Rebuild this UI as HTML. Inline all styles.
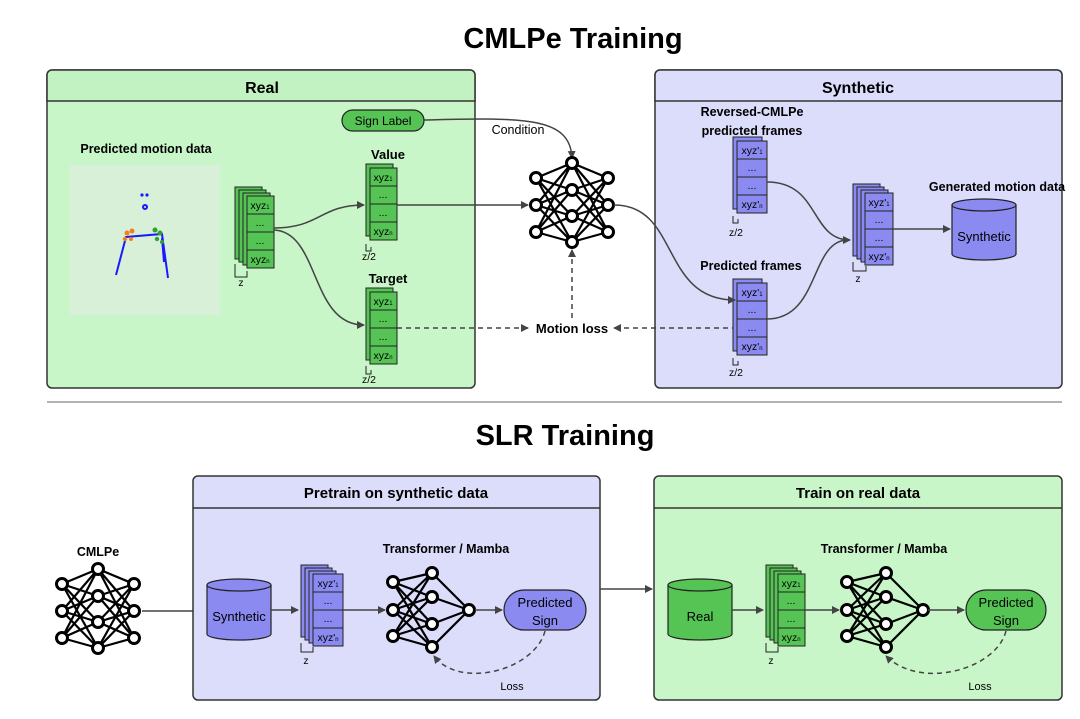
<!DOCTYPE html>
<html><head><meta charset="utf-8"><style>
body{margin:0;background:#fff}
svg{display:block;font-family:"Liberation Sans",sans-serif}
</style></head><body>
<svg width="1080" height="719" viewBox="0 0 1080 719" xmlns="http://www.w3.org/2000/svg">
<defs>
<marker id="a" markerWidth="8" markerHeight="8" refX="7" refY="4" orient="auto" markerUnits="userSpaceOnUse"><path d="M0,0 L8,4 L0,8 z" fill="#444"/></marker>
<g id="net3">
<g stroke="#000" stroke-width="2.2">
<path d="M0,0 L36,-15 M0,0 L36,12 M0,0 L36,38 M0,0 L36,64 M0,27 L36,-15 M0,27 L36,12 M0,27 L36,38 M0,27 L36,64 M0,54 L36,-15 M0,54 L36,12 M0,54 L36,38 M0,54 L36,64"/>
<path d="M72,0 L36,-15 M72,0 L36,12 M72,0 L36,38 M72,0 L36,64 M72,27 L36,-15 M72,27 L36,12 M72,27 L36,38 M72,27 L36,64 M72,54 L36,-15 M72,54 L36,12 M72,54 L36,38 M72,54 L36,64"/>
</g>
<g fill="#fff" stroke="#000" stroke-width="3">
<circle cx="0" cy="0" r="5.5"/><circle cx="0" cy="27" r="5.5"/><circle cx="0" cy="54" r="5.5"/>
<circle cx="36" cy="-15" r="5.5"/><circle cx="36" cy="12" r="5.5"/><circle cx="36" cy="38" r="5.5"/><circle cx="36" cy="64" r="5.5"/>
<circle cx="72" cy="0" r="5.5"/><circle cx="72" cy="27" r="5.5"/><circle cx="72" cy="54" r="5.5"/>
</g></g>
<g id="netS">
<g stroke="#000" stroke-width="2.2">
<path d="M0,0 L39,-9 M0,0 L39,15 M0,0 L39,42 M0,0 L39,65 M0,28 L39,-9 M0,28 L39,15 M0,28 L39,42 M0,28 L39,65 M0,54 L39,-9 M0,54 L39,15 M0,54 L39,42 M0,54 L39,65"/>
<path d="M76,28 L39,-9 M76,28 L39,15 M76,28 L39,42 M76,28 L39,65"/>
</g>
<g fill="#fff" stroke="#000" stroke-width="3">
<circle cx="0" cy="0" r="5.5"/><circle cx="0" cy="28" r="5.5"/><circle cx="0" cy="54" r="5.5"/>
<circle cx="39" cy="-9" r="5.5"/><circle cx="39" cy="15" r="5.5"/><circle cx="39" cy="42" r="5.5"/><circle cx="39" cy="65" r="5.5"/>
<circle cx="76" cy="28" r="5.5"/>
</g></g>
</defs>

<text x="573" y="48" text-anchor="middle" font-size="29" font-weight="bold">CMLPe Training</text>
<text x="565" y="445" text-anchor="middle" font-size="29" font-weight="bold">SLR Training</text>
<line x1="47" y1="402" x2="1062" y2="402" stroke="#999" stroke-width="1.5"/>

<!-- Real panel -->
<rect x="47" y="70" width="428" height="318" rx="5" fill="#c8f6c8" stroke="#333" stroke-width="1.5"/>
<path d="M52,70 H470 a5,5 0 0 1 5,5 V101 H47 V75 a5,5 0 0 1 5,-5z" fill="#c2f2c2" stroke="#333" stroke-width="1.5"/>
<text x="262" y="93" text-anchor="middle" font-size="16" font-weight="bold">Real</text>
<!-- Synthetic panel -->
<rect x="655" y="70" width="407" height="318" rx="5" fill="#dcdcfb" stroke="#333" stroke-width="1.5"/>
<path d="M660,70 H1057 a5,5 0 0 1 5,5 V101 H655 V75 a5,5 0 0 1 5,-5z" fill="#dcdcfb" stroke="#333" stroke-width="1.5"/>
<text x="858" y="93" text-anchor="middle" font-size="16" font-weight="bold">Synthetic</text>

<!-- motion plot -->
<text x="146" y="153" text-anchor="middle" font-size="12.5" font-weight="bold">Predicted motion data</text>
<rect x="70" y="165" width="150" height="150" fill="#d8f0d8"/>
<g stroke="#1a1aff" stroke-width="2" fill="none">
<path d="M116,275 L126,237 L162,234 L168,278 M162,238 L164,262"/>
<circle cx="145" cy="207" r="2"/>
</g>
<circle cx="142" cy="195" r="1.6" fill="#1a1aff"/><circle cx="147" cy="195" r="1.6" fill="#1a1aff"/>
<g fill="#f08020"><circle cx="127" cy="233" r="2.5"/><circle cx="132" cy="231" r="2.5"/><circle cx="125" cy="239" r="2.2"/><circle cx="131" cy="239" r="2"/></g>
<g fill="#30a030"><circle cx="155" cy="230" r="2.5"/><circle cx="160" cy="233" r="2.5"/><circle cx="157" cy="239" r="2.2"/><circle cx="162" cy="242" r="2"/></g>

<!-- Sign label -->
<rect x="342" y="110" width="82" height="21" rx="10.5" fill="#55c455" stroke="#222" stroke-width="1.2"/>
<text x="383" y="125" text-anchor="middle" font-size="12">Sign Label</text>
<path d="M424,120 C520,118 570,115 572,158" fill="none" stroke="#444" stroke-width="1.5" marker-end="url(#a)"/>
<text x="518" y="134" text-anchor="middle" font-size="12.5">Condition</text>

<!-- main green stack -->
<g stroke="#222" stroke-width="1" fill="#55c455">
<rect x="235" y="187" width="27" height="72"/><rect x="239" y="190" width="27" height="72"/><rect x="243" y="193" width="27" height="72"/>
<rect x="247" y="196" width="27" height="18"/><rect x="247" y="214" width="27" height="18"/><rect x="247" y="232" width="27" height="18"/><rect x="247" y="250" width="27" height="18"/>
</g>
<g font-size="10.5" text-anchor="middle">
<text x="260" y="209">xyz<tspan font-size="6">1</tspan></text><text x="260" y="226">...</text><text x="260" y="244">...</text><text x="260" y="263">xyz<tspan font-size="6">n</tspan></text>
</g>
<path d="M235,264 V277 H247 V271" fill="none" stroke="#222"/><text x="241" y="286" font-size="10.5" text-anchor="middle">z</text>

<!-- Value stack -->
<text x="388" y="159" text-anchor="middle" font-size="13" font-weight="bold">Value</text>
<g stroke="#222" stroke-width="1" fill="#55c455">
<rect x="366" y="164" width="27" height="72"/>
<rect x="370" y="168" width="27" height="18"/><rect x="370" y="186" width="27" height="18"/><rect x="370" y="204" width="27" height="18"/><rect x="370" y="222" width="27" height="18"/>
</g>
<g font-size="10.5" text-anchor="middle">
<text x="383" y="181">xyz<tspan font-size="6">1</tspan></text><text x="383" y="198">...</text><text x="383" y="216">...</text><text x="383" y="235">xyz<tspan font-size="6">n</tspan></text>
</g>
<path d="M366,244 V251 H371 V247" fill="none" stroke="#222"/><text x="369" y="260" font-size="10.5" text-anchor="middle">z/2</text>

<!-- Target stack -->
<text x="388" y="283" text-anchor="middle" font-size="13" font-weight="bold">Target</text>
<g stroke="#222" stroke-width="1" fill="#55c455">
<rect x="366" y="288" width="27" height="72"/>
<rect x="370" y="292" width="27" height="18"/><rect x="370" y="310" width="27" height="18"/><rect x="370" y="328" width="27" height="18"/><rect x="370" y="346" width="27" height="18"/>
</g>
<g font-size="10.5" text-anchor="middle">
<text x="383" y="305">xyz<tspan font-size="6">1</tspan></text><text x="383" y="322">...</text><text x="383" y="340">...</text><text x="383" y="359">xyz<tspan font-size="6">n</tspan></text>
</g>
<path d="M366,366 V374 H371 V370" fill="none" stroke="#222"/><text x="369" y="383" font-size="10.5" text-anchor="middle">z/2</text>

<!-- curves from main stack -->
<path d="M274,228 C320,228 320,205 364,205" fill="none" stroke="#444" stroke-width="1.5" marker-end="url(#a)"/>
<path d="M274,230 C320,232 310,325 364,325" fill="none" stroke="#444" stroke-width="1.5" marker-end="url(#a)"/>
<path d="M397,205 H528" fill="none" stroke="#444" stroke-width="1.5" marker-end="url(#a)"/>

<!-- big net -->
<use href="#net3" x="536" y="178"/>

<!-- motion loss -->
<text x="572" y="333" text-anchor="middle" font-size="13" font-weight="bold">Motion loss</text>
<g fill="none" stroke="#444" stroke-width="1.5" stroke-dasharray="5,4">
<path d="M397,328 H528" marker-end="url(#a)"/>
<path d="M737,328 H614" marker-end="url(#a)"/>
<path d="M572,318 V250" marker-end="url(#a)"/>
</g>

<!-- Reversed stack -->
<text x="752" y="116" text-anchor="middle" font-size="12.5" font-weight="bold">Reversed-CMLPe</text>
<text x="752" y="135" text-anchor="middle" font-size="12.5" font-weight="bold">predicted frames</text>
<g stroke="#222" stroke-width="1" fill="#8a8af0">
<rect x="733" y="137" width="29" height="72"/>
<rect x="737" y="141" width="30" height="18"/><rect x="737" y="159" width="30" height="18"/><rect x="737" y="177" width="30" height="18"/><rect x="737" y="195" width="30" height="18"/>
</g>
<g font-size="10.5" text-anchor="middle">
<text x="752" y="154">xyz'<tspan font-size="6">1</tspan></text><text x="752" y="171">...</text><text x="752" y="189">...</text><text x="752" y="208">xyz'<tspan font-size="6">n</tspan></text>
</g>
<path d="M733,216 V223 H738 V219" fill="none" stroke="#222"/><text x="736" y="236" font-size="10.5" text-anchor="middle">z/2</text>

<!-- Predicted frames stack -->
<text x="751" y="270" text-anchor="middle" font-size="12.5" font-weight="bold">Predicted frames</text>
<g stroke="#222" stroke-width="1" fill="#8a8af0">
<rect x="733" y="279" width="29" height="72"/>
<rect x="737" y="283" width="30" height="18"/><rect x="737" y="301" width="30" height="18"/><rect x="737" y="319" width="30" height="18"/><rect x="737" y="337" width="30" height="18"/>
</g>
<g font-size="10.5" text-anchor="middle">
<text x="752" y="296">xyz'<tspan font-size="6">1</tspan></text><text x="752" y="313">...</text><text x="752" y="331">...</text><text x="752" y="350">xyz'<tspan font-size="6">n</tspan></text>
</g>
<path d="M733,358 V365 H738 V361" fill="none" stroke="#222"/><text x="736" y="376" font-size="10.5" text-anchor="middle">z/2</text>

<path d="M614,205 C680,205 660,300 735,300" fill="none" stroke="#444" stroke-width="1.5" marker-end="url(#a)"/>
<path d="M767,182 C820,182 810,240 850,240" fill="none" stroke="#444" stroke-width="1.5" marker-end="url(#a)"/>
<path d="M767,319 C820,319 810,240 848,240" fill="none" stroke="#444" stroke-width="1.5"/>

<!-- generated stack -->
<g stroke="#222" stroke-width="1" fill="#8a8af0">
<rect x="853" y="184" width="27" height="72"/><rect x="857" y="187" width="27" height="72"/><rect x="861" y="190" width="27" height="72"/>
<rect x="865" y="193" width="28" height="18"/><rect x="865" y="211" width="28" height="18"/><rect x="865" y="229" width="28" height="18"/><rect x="865" y="247" width="28" height="18"/>
</g>
<g font-size="10.5" text-anchor="middle">
<text x="879" y="206">xyz'<tspan font-size="6">1</tspan></text><text x="879" y="223">...</text><text x="879" y="241">...</text><text x="879" y="260">xyz'<tspan font-size="6">n</tspan></text>
</g>
<path d="M853,262 V271 H866 V266" fill="none" stroke="#222"/><text x="858" y="282" font-size="10.5" text-anchor="middle">z</text>
<path d="M893,229 H950" fill="none" stroke="#444" stroke-width="1.5" marker-end="url(#a)"/>
<text x="997" y="191" text-anchor="middle" font-size="12.5" font-weight="bold">Generated motion data</text>
<g stroke="#222" stroke-width="1.2" fill="#8a8af0">
<path d="M952,205 V254 A32,6 0 0 0 1016,254 V205"/>
<ellipse cx="984" cy="205" rx="32" ry="6"/>
</g>
<text x="984" y="241" text-anchor="middle" font-size="13">Synthetic</text>

<!-- Bottom: CMLPe -->
<text x="98" y="556" text-anchor="middle" font-size="12.5" font-weight="bold">CMLPe</text>
<use href="#net3" x="62" y="584"/>
<path d="M142,611 H205" fill="none" stroke="#444" stroke-width="1.5" marker-end="url(#a)"/>

<!-- Pretrain panel -->
<rect x="193" y="476" width="407" height="224" rx="5" fill="#dcdcfb" stroke="#333" stroke-width="1.5"/>
<line x1="193" y1="508" x2="600" y2="508" stroke="#333" stroke-width="1.5"/>
<text x="396" y="498" text-anchor="middle" font-size="15" font-weight="bold">Pretrain on synthetic data</text>
<text x="446" y="553" text-anchor="middle" font-size="12.5" font-weight="bold">Transformer / Mamba</text>
<g stroke="#222" stroke-width="1.2" fill="#8a8af0">
<path d="M207,585 V634 A32,6 0 0 0 271,634 V585"/>
<ellipse cx="239" cy="585" rx="32" ry="6"/>
</g>
<text x="239" y="621" text-anchor="middle" font-size="13">Synthetic</text>
<path d="M271,610 H298" fill="none" stroke="#444" stroke-width="1.5" marker-end="url(#a)"/>
<g stroke="#222" stroke-width="1" fill="#8a8af0">
<rect x="301" y="565" width="27" height="72"/><rect x="305" y="568" width="27" height="72"/><rect x="309" y="571" width="27" height="72"/>
<rect x="313" y="574" width="30" height="18"/><rect x="313" y="592" width="30" height="18"/><rect x="313" y="610" width="30" height="18"/><rect x="313" y="628" width="30" height="18"/>
</g>
<g font-size="10.5" text-anchor="middle">
<text x="328" y="587">xyz'<tspan font-size="6">1</tspan></text><text x="328" y="604">...</text><text x="328" y="622">...</text><text x="328" y="641">xyz'<tspan font-size="6">n</tspan></text>
</g>
<path d="M301,643 V652 H313 V647" fill="none" stroke="#222"/><text x="306" y="664" font-size="10.5" text-anchor="middle">z</text>
<path d="M343,610 H385" fill="none" stroke="#444" stroke-width="1.5" marker-end="url(#a)"/>
<use href="#netS" x="393" y="582"/>
<path d="M475,610 H502" fill="none" stroke="#444" stroke-width="1.5" marker-end="url(#a)"/>
<rect x="504" y="590" width="82" height="40" rx="20" fill="#8a8af0" stroke="#222" stroke-width="1.2"/>
<text x="545" y="607" text-anchor="middle" font-size="13">Predicted</text>
<text x="545" y="625" text-anchor="middle" font-size="13">Sign</text>
<path d="M545,631 C535,670 460,690 434,656" fill="none" stroke="#444" stroke-width="1.5" stroke-dasharray="5,4" marker-end="url(#a)"/>
<text x="512" y="690" text-anchor="middle" font-size="11">Loss</text>

<path d="M600,589 H652" fill="none" stroke="#444" stroke-width="1.5" marker-end="url(#a)"/>

<!-- Train on real panel -->
<rect x="654" y="476" width="408" height="224" rx="5" fill="#c8f6c8" stroke="#333" stroke-width="1.5"/>
<line x1="654" y1="508" x2="1062" y2="508" stroke="#333" stroke-width="1.5"/>
<text x="858" y="498" text-anchor="middle" font-size="15" font-weight="bold">Train on real data</text>
<text x="884" y="553" text-anchor="middle" font-size="12.5" font-weight="bold">Transformer / Mamba</text>
<g stroke="#222" stroke-width="1.2" fill="#55c455">
<path d="M668,585 V634 A32,6 0 0 0 732,634 V585"/>
<ellipse cx="700" cy="585" rx="32" ry="6"/>
</g>
<text x="700" y="621" text-anchor="middle" font-size="13">Real</text>
<path d="M732,610 H763" fill="none" stroke="#444" stroke-width="1.5" marker-end="url(#a)"/>
<g stroke="#222" stroke-width="1" fill="#55c455">
<rect x="766" y="565" width="27" height="72"/><rect x="770" y="568" width="27" height="72"/><rect x="774" y="571" width="27" height="72"/>
<rect x="778" y="574" width="27" height="18"/><rect x="778" y="592" width="27" height="18"/><rect x="778" y="610" width="27" height="18"/><rect x="778" y="628" width="27" height="18"/>
</g>
<g font-size="10.5" text-anchor="middle">
<text x="791" y="587">xyz<tspan font-size="6">1</tspan></text><text x="791" y="604">...</text><text x="791" y="622">...</text><text x="791" y="641">xyz<tspan font-size="6">n</tspan></text>
</g>
<path d="M766,643 V652 H778 V647" fill="none" stroke="#222"/><text x="771" y="664" font-size="10.5" text-anchor="middle">z</text>
<path d="M805,610 H839" fill="none" stroke="#444" stroke-width="1.5" marker-end="url(#a)"/>
<use href="#netS" x="847" y="582"/>
<path d="M928,610 H964" fill="none" stroke="#444" stroke-width="1.5" marker-end="url(#a)"/>
<rect x="966" y="590" width="80" height="40" rx="20" fill="#55c455" stroke="#222" stroke-width="1.2"/>
<text x="1006" y="607" text-anchor="middle" font-size="13">Predicted</text>
<text x="1006" y="625" text-anchor="middle" font-size="13">Sign</text>
<path d="M1006,631 C996,670 920,690 886,656" fill="none" stroke="#444" stroke-width="1.5" stroke-dasharray="5,4" marker-end="url(#a)"/>
<text x="980" y="690" text-anchor="middle" font-size="11">Loss</text>
</svg>
</body></html>
